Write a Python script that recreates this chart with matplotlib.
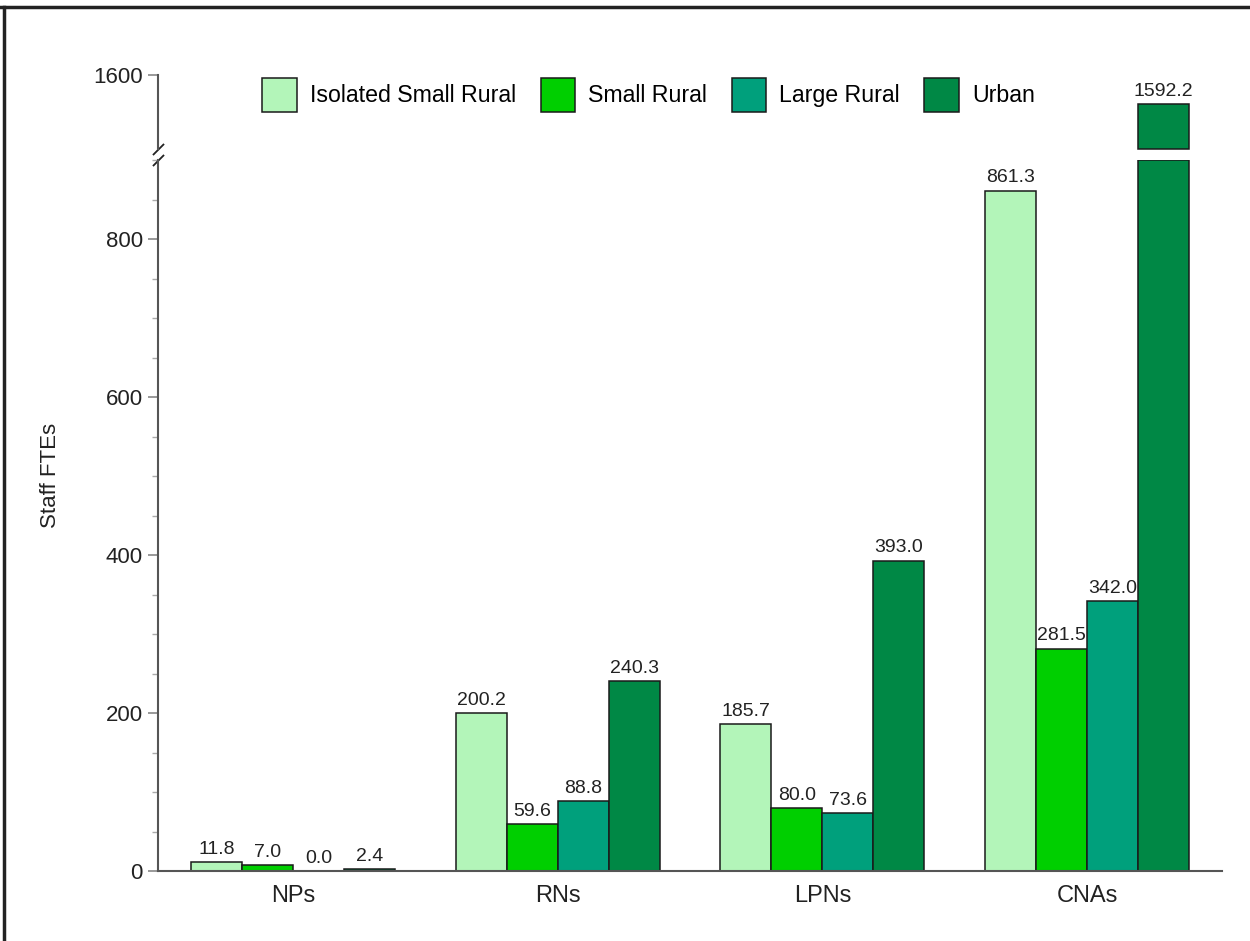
import matplotlib.pyplot as plt
import matplotlib.ticker as mticker
from matplotlib.lines import Line2D
import numpy as np

plt.rcParams['font.family'] = ['Liberation Sans', 'DejaVu Sans']

categories = ['NPs', 'RNs', 'LPNs', 'CNAs']
series_names = ['Isolated Small Rural', 'Small Rural', 'Large Rural', 'Urban']
isolated_small_rural = [11.8, 200.2, 185.7, 861.3]
small_rural = [7.0, 59.6, 80.0, 281.5]
large_rural = [0.0, 88.8, 73.6, 342.0]
urban = [2.4, 240.3, 393.0, 1592.2]
series = [isolated_small_rural, small_rural, large_rural, urban]
colors = ['#b3f5b9', '#00cf00', '#00a07c', '#008845']

low_max = 900
high_lim = (1580, 1600)

W, H = 1250, 941
fig = plt.figure(figsize=(W / 100, H / 100), dpi=100)
left, right = 158 / W, 1222 / W
ax = fig.add_axes([left, 1 - 871 / H, right - left, (871 - 160) / H])
ax_top = fig.add_axes([left, 1 - 149 / H, right - left, (149 - 75) / H])

spine_col = '#555555'
text_col = '#222222'
x = np.arange(len(categories))
w = 0.1925
for i, (vals, col, name) in enumerate(zip(series, colors, series_names)):
    pos = x + (i - 1.5) * w
    vals = np.array(vals)
    ax.bar(pos, np.minimum(vals, low_max), w, color=col, edgecolor='#1a1a1a',
           linewidth=1.1, label=name)
    big = vals > low_max
    if big.any():
        ax_top.bar(pos[big], vals[big] - high_lim[0], w, bottom=high_lim[0], color=col,
                   edgecolor='#1a1a1a', linewidth=1.1, clip_on=False)
    for p, v in zip(pos, vals):
        target = ax if v <= low_max else ax_top
        target.annotate(f'{v:.1f}', (p, v), xytext=(0, 3), textcoords='offset points',
                        ha='center', va='bottom', fontsize=14, color=text_col)

for a in (ax, ax_top):
    a.set_xlim(-0.51, 3.51)
    for s in ('top', 'right'):
        a.spines[s].set_visible(False)
    a.spines['left'].set_color(spine_col)
    a.spines['left'].set_linewidth(1.5)
    a.tick_params(axis='y', which='major', length=7, width=1.2, color='#888888',
                  labelsize=16, pad=4, labelcolor=text_col)

ax.set_ylim(0, low_max)
ax.spines['bottom'].set_color(spine_col)
ax.spines['bottom'].set_linewidth(1.5)
ax.yaxis.set_major_locator(mticker.FixedLocator([0, 200, 400, 600, 800]))
ax.yaxis.set_minor_locator(mticker.MultipleLocator(50))
ax.tick_params(axis='y', which='minor', length=4, width=1, color='#aaaaaa')
ax.set_xticks(x)
ax.set_xticklabels(categories)
ax.tick_params(axis='x', length=0, labelsize=17, pad=10, labelcolor=text_col)

ax_top.set_ylim(*high_lim)
ax_top.spines['bottom'].set_visible(False)
ax_top.set_yticks([1600])
ax_top.set_xticks([])

# break marks
mk = dict(marker=[(-1, -1), (1, 1)], markersize=8, linestyle='none',
          color='#222222', mew=1.3, clip_on=False)
ax.plot([0], [1], transform=ax.transAxes, **mk)
ax_top.plot([0], [0], transform=ax_top.transAxes, **mk)

fig.text(50 / W, 1 - 475 / H, 'Staff FTEs', rotation=90, ha='center', va='center',
         fontsize=16, color=text_col)

fig.legend(loc='center', bbox_to_anchor=(0.519, 1 - 95 / H), ncol=4, frameon=False,
           fontsize=16.7, handlelength=1.5, handleheight=1.85, handletextpad=0.56,
           columnspacing=1.05)

# outer frame lines (top and left)
fig.add_artist(Line2D([0, 1], [1 - 7 / H, 1 - 7 / H], transform=fig.transFigure,
                      color='#222222', linewidth=2.5))
fig.add_artist(Line2D([4 / W, 4 / W], [0, 1 - 7 / H], transform=fig.transFigure,
                      color='#222222', linewidth=2.5))

fig.savefig('out.png', dpi=100)
